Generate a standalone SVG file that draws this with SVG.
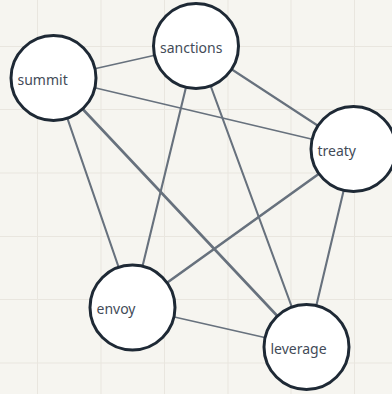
<svg xmlns="http://www.w3.org/2000/svg" width="392" height="394" viewBox="0 0 392 394">
  <style>
    .grid line { stroke: #e9e6df; stroke-width: 1; }
    .edge { stroke: #67717d; fill: none; stroke-linecap: round; }
    .w1 { stroke-width: 1.6; }
    .w2 { stroke-width: 2.1; }
    .w3 { stroke-width: 2.6; }
    .node circle { fill: #ffffff; stroke: #1e2935; stroke-width: 3; }
    .node text { font-family: "Noto Sans", "DejaVu Sans", sans-serif; font-size: 14px; fill: #434b58; }
  </style>
  <rect width="392" height="394" fill="#f6f5f0"/>
  <g class="grid">
    <line x1="37.5" y1="0" x2="37.5" y2="394"/>
    <line x1="101" y1="0" x2="101" y2="394"/>
    <line x1="164.5" y1="0" x2="164.5" y2="394"/>
    <line x1="228" y1="0" x2="228" y2="394"/>
    <line x1="291" y1="0" x2="291" y2="394"/>
    <line x1="354.5" y1="0" x2="354.5" y2="394"/>
    <line x1="0" y1="46.5" x2="392" y2="46.5"/>
    <line x1="0" y1="109.5" x2="392" y2="109.5"/>
    <line x1="0" y1="173" x2="392" y2="173"/>
    <line x1="0" y1="236.5" x2="392" y2="236.5"/>
    <line x1="0" y1="299.5" x2="392" y2="299.5"/>
    <line x1="0" y1="363" x2="392" y2="363"/>
  </g>
  <g id="connectors">
    <line class="edge w1" x1="53.5" y1="78" x2="196" y2="46"/>
    <line class="edge w1" x1="53.5" y1="78" x2="353.5" y2="149"/>
    <line class="edge w2" x1="53.5" y1="78" x2="132.5" y2="307.5"/>
    <line class="edge w3" x1="53.5" y1="78" x2="306.5" y2="347"/>
    <line class="edge w2" x1="196" y1="46" x2="353.5" y2="149"/>
    <line class="edge w2" x1="196" y1="46" x2="132.5" y2="307.5"/>
    <line class="edge w2" x1="196" y1="46" x2="306.5" y2="347"/>
    <line class="edge w3" x1="353.5" y1="149" x2="132.5" y2="307.5"/>
    <line class="edge w2" x1="353.5" y1="149" x2="306.5" y2="347"/>
    <line class="edge w1" x1="132.5" y1="307.5" x2="306.5" y2="347"/>
  </g>
  <g id="summit" class="node">
    <circle cx="53.5" cy="78" r="42.5"/>
    <text x="17.5" y="84.5">summit</text>
  </g>
  <g id="sanctions" class="node">
    <circle cx="196" cy="46" r="42.5"/>
    <text x="160" y="52.5">sanctions</text>
  </g>
  <g id="treaty" class="node">
    <circle cx="353.5" cy="149" r="42.5"/>
    <text x="317.5" y="155.5">treaty</text>
  </g>
  <g id="envoy" class="node">
    <circle cx="132.5" cy="307.5" r="42.5"/>
    <text x="96.5" y="314">envoy</text>
  </g>
  <g id="leverage" class="node">
    <circle cx="306.5" cy="347" r="42.5"/>
    <text x="270.5" y="353.5">leverage</text>
  </g>
</svg>
